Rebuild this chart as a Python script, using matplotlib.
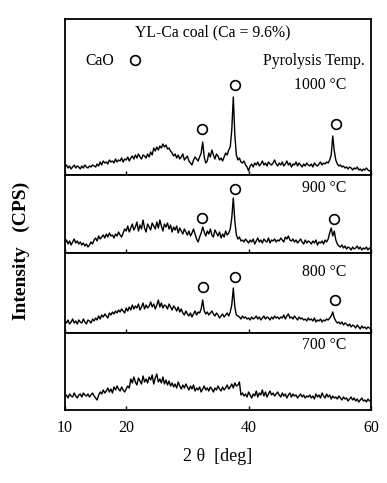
import matplotlib
matplotlib.use('Agg')
import matplotlib.pyplot as plt
import numpy as np

plt.rcParams['font.family'] = ['Liberation Serif', 'DejaVu Serif']

# 2-theta grid, 10 to 60 deg in 0.25 deg steps
two_theta = np.arange(201) * 0.25 + 10

# intensities (arbitrary units, pixel heights)
i_1000 = [8, 10, 7, 9, 6, 8, 10, 7, 9, 8, 6, 9, 7, 10, 8, 7, 9, 8, 10, 9,
          8, 11, 9, 13, 10, 14, 12, 13, 11, 15, 13, 14, 12, 16, 13, 15, 14, 17, 13, 16,
          15, 18, 14, 17, 19, 16, 20, 17, 21, 18, 16, 20, 19, 17, 21, 18, 23, 20, 27, 24,
          28, 25, 29, 27, 31, 28, 30, 26, 27, 24, 22, 19, 21, 17, 20, 16, 18, 21, 15, 17,
          19, 14, 12, 10, 15, 18, 16, 14, 18, 22, 33, 18, 12, 14, 22, 18, 25, 20, 16, 21,
          19, 15, 17, 14, 18, 22, 20, 25, 28, 45, 78, 40, 20, 15, 17, 13, 12, 14, 10, 8,
          4, 9, 11, 8, 12, 10, 13, 9, 11, 14, 10, 12, 9, 13, 11, 10, 12, 15, 11, 9,
          12, 10, 13, 9, 11, 14, 10, 12, 8, 11, 10, 13, 9, 12, 10, 8, 11, 9, 12, 10,
          9, 11, 8, 12, 10, 9, 11, 13, 10, 12, 11, 13, 12, 15, 20, 39, 24, 15, 11, 9,
          10, 8, 9, 7, 8, 6, 8, 7, 5, 7, 6, 8, 5, 6, 4, 6, 5, 7, 5, 4, 5]
i_900 = [10, 13, 9, 12, 8, 11, 14, 10, 12, 9, 11, 8, 10, 7, 9, 6, 8, 11, 9, 13,
         15, 12, 17, 14, 16, 18, 15, 19, 16, 20, 17, 18, 15, 19, 17, 21, 18, 16, 20, 24,
         22, 27, 21, 25, 29, 23, 26, 31, 22, 28, 24, 33, 25, 21, 29, 26, 23, 30, 27, 24,
         31, 25, 33, 27, 22, 29, 26, 30, 24, 28, 21, 26, 23, 27, 20, 25, 22, 19, 24, 21,
         18, 22, 17, 20, 24, 19, 14, 11, 16, 20, 26, 21, 17, 22, 19, 24, 18, 16, 23, 20,
         17, 21, 15, 19, 16, 22, 18, 20, 24, 35, 55, 32, 18, 14, 16, 12, 13, 11, 14, 12,
         10, 13, 11, 14, 9, 12, 15, 11, 13, 10, 14, 12, 11, 15, 10, 13, 12, 14, 11, 13,
         12, 15, 13, 11, 16, 14, 17, 13, 12, 14, 11, 13, 10, 12, 14, 11, 9, 13, 10, 12,
         11, 9, 12, 10, 13, 8, 11, 10, 12, 9, 13, 11, 14, 20, 25, 17, 22, 13, 9, 7,
         6, 8, 5, 7, 4, 6, 5, 3, 6, 4, 5, 7, 4, 6, 3, 5, 4, 6, 3, 5, 4]
i_800 = [12, 10, 13, 9, 11, 14, 10, 12, 9, 13, 11, 10, 14, 11, 9, 13, 12, 10, 14, 12,
         15, 13, 17, 14, 18, 16, 19, 17, 15, 20, 18, 21, 19, 22, 20, 23, 21, 24, 22, 20,
         25, 22, 26, 23, 28, 24, 27, 25, 29, 23, 26, 30, 24, 28, 25, 27, 31, 26, 29, 24,
         28, 33, 26, 30, 25, 28, 27, 24, 29, 26, 23, 27, 25, 22, 26, 21, 24, 20, 18, 22,
         19, 17, 20, 16, 19, 22, 18, 21, 20, 24, 33, 22, 19, 21, 18, 20, 22, 19, 17, 20,
         18, 15, 17, 19, 16, 18, 20, 17, 21, 28, 45, 26, 18, 17, 16, 14, 17, 15, 16, 14,
         15, 13, 16, 14, 15, 17, 14, 16, 13, 15, 17, 14, 16, 15, 13, 16, 14, 17, 15, 16,
         14, 16, 15, 18, 14, 17, 19, 15, 16, 14, 17, 15, 13, 16, 14, 15, 13, 14, 12, 15,
         13, 14, 12, 15, 11, 13, 12, 14, 11, 13, 12, 14, 13, 15, 17, 21, 15, 12, 10, 11,
         9, 11, 8, 10, 9, 7, 9, 6, 8, 7, 5, 8, 6, 4, 7, 5, 6, 4, 6, 5, 4]
i_700 = [13, 15, 12, 16, 14, 13, 17, 14, 12, 15, 16, 13, 17, 15, 14, 16, 13, 15, 17, 14,
         12, 10, 15, 18, 16, 20, 17, 19, 22, 18, 21, 17, 23, 20, 24, 21, 19, 23, 20, 18,
         21, 24, 22, 31, 27, 33, 28, 25, 32, 29, 26, 34, 28, 31, 27, 33, 30, 35, 26, 32,
         36, 28, 31, 27, 33, 26, 30, 25, 29, 24, 27, 23, 26, 22, 28, 24, 21, 25, 22, 26,
         23, 20, 24, 21, 25, 19, 22, 20, 23, 18, 21, 24, 20, 22, 19, 23, 21, 18, 22, 20,
         24, 21, 19, 23, 20, 22, 25, 21, 23, 26, 22, 27, 24, 25, 28, 15, 17, 14, 16, 13,
         18, 15, 12, 16, 14, 19, 13, 17, 15, 20, 14, 18, 13, 16, 19, 15, 17, 14, 16, 18,
         15, 13, 17, 14, 16, 12, 15, 17, 13, 16, 14, 15, 12, 14, 16, 13, 15, 12, 14, 13,
         15, 12, 14, 11, 16, 13, 15, 12, 17, 14, 12, 16, 13, 15, 11, 14, 12, 13, 11, 14,
         12, 10, 13, 11, 12, 9, 11, 13, 10, 12, 9, 11, 8, 10, 12, 9, 10, 8, 11, 9, 10]

temps = ['1000 °C', '900 °C', '800 °C', '700 °C']
series = [i_1000, i_900, i_800, i_700]

# CaO markers (2theta, height) per panel
cao_x = [[32.4, 37.7, 54.2], [32.4, 37.7, 53.9], [32.5, 37.7, 54.1], []]
cao_y = [[46, 90, 51], [35, 64, 34], [46, 56, 33], []]

W, H = 387, 483
fig = plt.figure(figsize=(W / 100, H / 100), dpi=100)

# panel edges in pixels from the top of the image
edges = [19, 175, 253, 333, 410]
left, right = 65, 371

axes = []
for k in range(4):
    top, bot = edges[k], edges[k + 1]
    ax = fig.add_axes([left / W, 1 - bot / H, (right - left) / W, (bot - top) / H])
    ax.plot(two_theta, series[k], color='black', lw=1.0)
    if cao_x[k]:
        ax.plot(cao_x[k], cao_y[k], 'o', mfc='white', mec='black', ms=7, mew=1.2)
    ax.set_xlim(10, 60)
    ax.set_ylim(0, bot - top)
    ax.set_yticks([])
    ax.set_xticks([10, 20, 40, 60])
    ax.tick_params(axis='x', direction='in', length=3, width=1, labelsize=11.5,
                   pad=7, labelbottom=(k == 3))
    for s in ax.spines.values():
        s.set_linewidth(1.3)
    ax.text(55.9, {0: 90, 1: 65, 2: 61, 3: 65}[k], temps[k], ha='right',
            va='center', fontsize=11.3)
    axes.append(ax)

top_ax = axes[0]
top_ax.text(34.2, 143, 'YL-Ca coal (Ca = 9.6%)', ha='center', va='center', fontsize=11.3)
top_ax.text(13.3, 114, 'CaO', ha='left', va='center', fontsize=11.3)
top_ax.plot([21.4], [115], 'o', mfc='white', mec='black', ms=7, mew=1.2)
top_ax.text(59.0, 114, 'Pyrolysis Temp.', ha='right', va='center', fontsize=11.3)

axes[3].set_xlabel('2 θ  [deg]', fontsize=13, labelpad=9)
fig.text(21 / W, 1 - 251 / H, 'Intensity   (CPS)', rotation=90, ha='center',
         va='center', fontsize=14, fontweight='bold')

fig.savefig('out.png', dpi=100)
